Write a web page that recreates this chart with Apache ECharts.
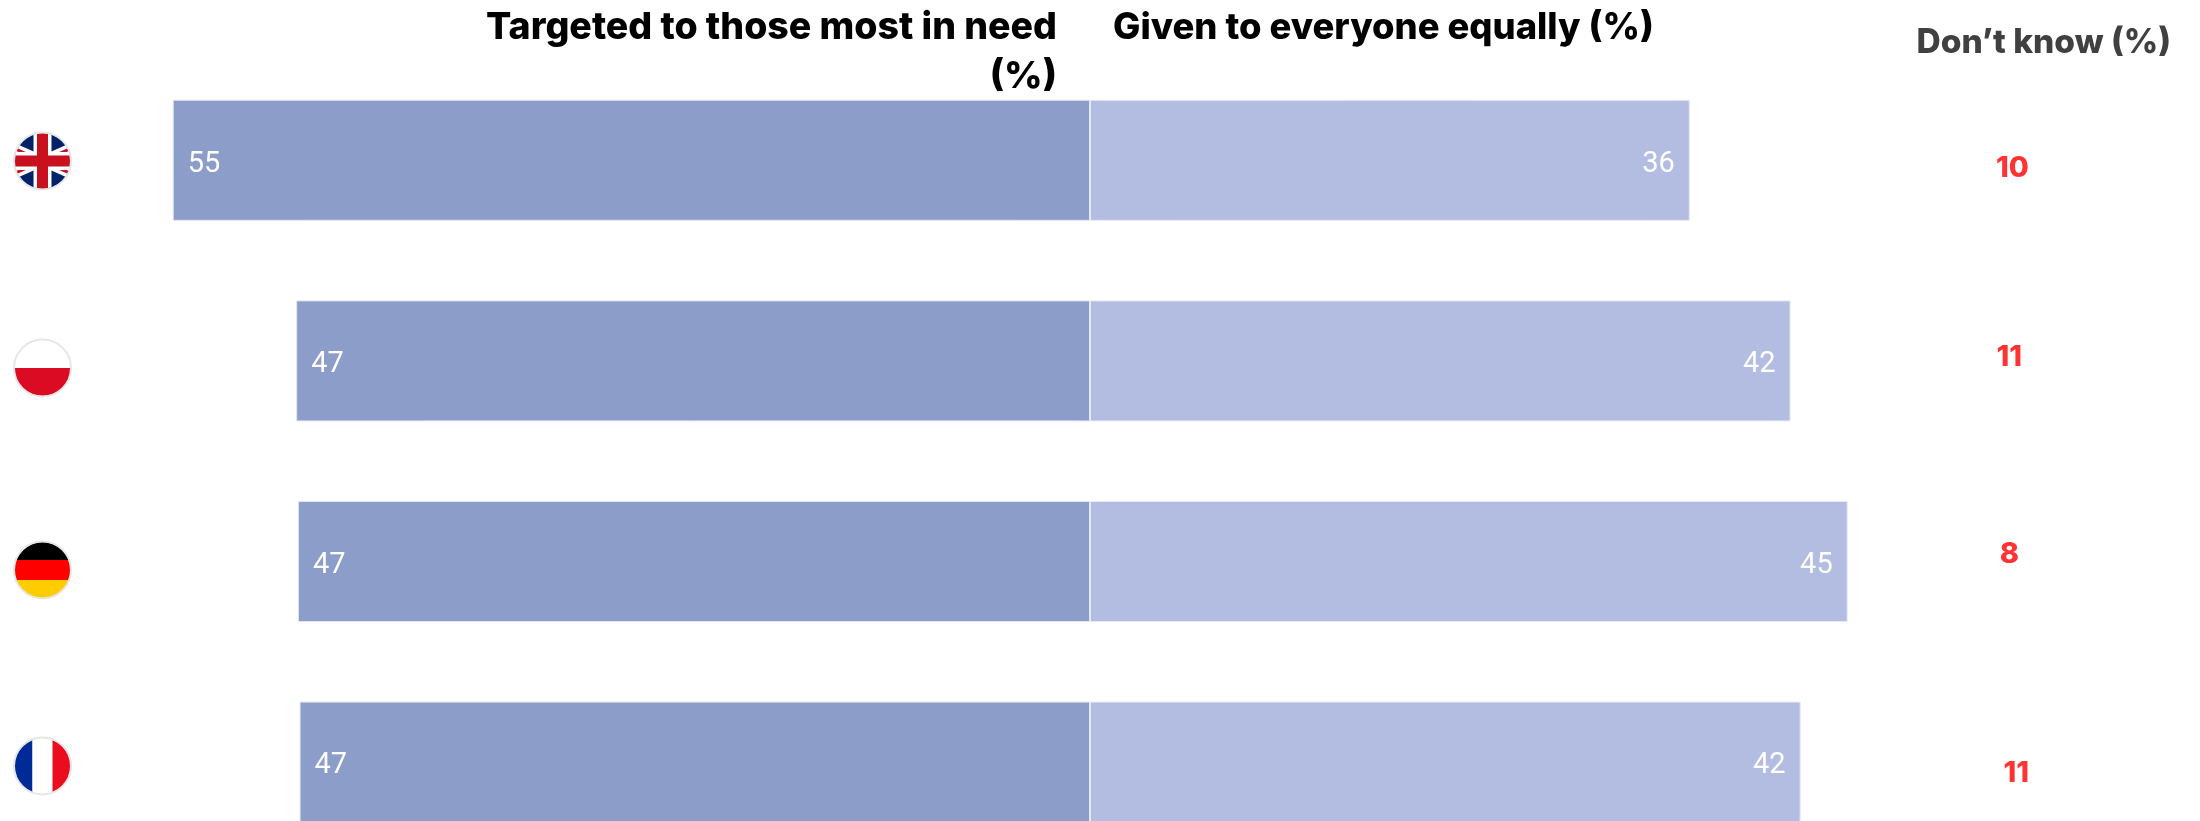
<!DOCTYPE html>
<html><head><meta charset="utf-8">
<style>html,body{margin:0;padding:0;background:#fff}#c{width:2200px;height:821px}</style>
<script src="https://cdn.jsdelivr.net/npm/echarts@6/dist/echarts.min.js"></script>
</head><body><div id="c"></div>
<script>
const countries = ['United Kingdom','Poland','Germany','France'];
const targeted = [54.6,47.25,47.15,47.05];
const givenEqually = [35.7,41.7,45.1,42.3];
const dontKnow = [10,11,8,11];
const dontKnowNudgeX = [0,-3,-3,4];
const dontKnowNudgeY = [8,-4,-7,11];
const dontKnowColumn = 54.9;
const headers = {targeted:['Targeted to those most in need','(%)'],given:'Given to everyone equally (%)',dk:'Don\u2019t know (%)'};

const flagBodies = {
 'United Kingdom':'<rect width="60" height="60" fill="#012169"/><path d="M-6 14 L66 46 M-6 46 L66 14" stroke="#fff" stroke-width="10"/><path d="M-6 14 L66 46 M-6 46 L66 14" stroke="#c8102e" stroke-width="3"/><path d="M30 0V60M0 30H60" stroke="#fff" stroke-width="18"/><path d="M30 0V60M0 30H60" stroke="#c8101e" stroke-width="11"/>',
 'Poland':'<rect width="60" height="30" fill="#fff"/><rect y="30" width="60" height="30" fill="#dc0b24"/>',
 'Germany':'<rect width="60" height="20" fill="#000"/><rect y="20" width="60" height="20" fill="#f00"/><rect y="40" width="60" height="20" fill="#ffcc00"/>',
 'France':'<rect width="20" height="60" fill="#002b96"/><rect x="20" width="20" height="60" fill="#fff"/><rect x="40" width="20" height="60" fill="#ec0c20"/>'
};
const flagCentres = [[42.5,161],[42.5,368],[42.5,570],[42.5,766]];
function flagUri(name){
  const svg='<svg xmlns="http://www.w3.org/2000/svg" width="60" height="60" viewBox="0 0 60 60"><defs><clipPath id="k"><circle cx="30" cy="30" r="28"/></clipPath></defs><g clip-path="url(#k)">'+flagBodies[name]+'</g><circle cx="30" cy="30" r="28.5" fill="none" stroke="#e6e6e6" stroke-width="2"/></svg>';
  return 'data:image/svg+xml;charset=utf-8,'+encodeURIComponent(svg);
}
const pxPerUnit = 16.8, zeroX = 1090, W = 2200;
const barLabel = {show:true,color:'#fff',fontFamily:'Roboto',fontWeight:400,fontSize:29,distance:15,offset:[0,4]};
const headFont = {fontFamily:'Inter',fontWeight:800};
const chart = echarts.init(document.getElementById('c'),null,{renderer:'canvas'});
chart.setOption({
  animation:false,
  backgroundColor:'#fff',
  grid:{left:0,top:60,width:W,height:802.4,outerBoundsMode:'none'},
  xAxis:{type:'value',min:-zeroX/pxPerUnit,max:(W-zeroX)/pxPerUnit,show:false},
  yAxis:{type:'category',data:countries,inverse:true,show:false},
  series:[
    {name:'Targeted to those most in need',type:'bar',barWidth:121,barGap:'-100%',
     data:targeted.map(v=>-v),
     itemStyle:{color:'#8c9dca',borderColor:'#e2e6f2',borderWidth:1},
     label:Object.assign({},barLabel,{position:'insideLeft',formatter:p=>Math.round(Math.abs(p.value))})},
    {name:'Given to everyone equally',type:'bar',barWidth:121,barGap:'-100%',
     data:givenEqually,
     itemStyle:{color:'#b3bde1',borderColor:'#e6e9f5',borderWidth:1},
     label:Object.assign({},barLabel,{position:'insideRight',formatter:p=>Math.round(p.value)})},
    {name:'Don\u2019t know',type:'scatter',symbolSize:0,
     data:dontKnow.map((v,i)=>({value:[dontKnowColumn,i],dk:v,
       label:{offset:[dontKnowNudgeX[i],dontKnowNudgeY[i]]}})),
     label:{show:true,position:'inside',color:'#f00',fontFamily:'Inter',fontWeight:800,fontSize:29,
       formatter:p=>p.data.dk}}
  ],
  graphic:[
    {type:'text',x:1057,y:28,style:Object.assign({text:headers.targeted[0],textAlign:'right',textVerticalAlign:'middle',fontSize:37.5,fill:'#000'},headFont)},
    {type:'text',x:1057,y:77,style:Object.assign({text:headers.targeted[1],textAlign:'right',textVerticalAlign:'middle',fontSize:37.5,fill:'#000'},headFont)},
    {type:'text',x:1113,y:28,style:Object.assign({text:headers.given,textAlign:'left',textVerticalAlign:'middle',fontSize:36.4,fill:'#000'},headFont)},
    {type:'text',x:2171,y:43,style:Object.assign({text:headers.dk,textAlign:'right',textVerticalAlign:'middle',fontSize:33.5,fill:'#404040'},headFont)}
  ].concat(countries.map((n,i)=>({type:'image',x:flagCentres[i][0]-30,y:flagCentres[i][1]-30,
     style:{image:flagUri(n),width:60,height:60}})))
});
</script></body></html>
